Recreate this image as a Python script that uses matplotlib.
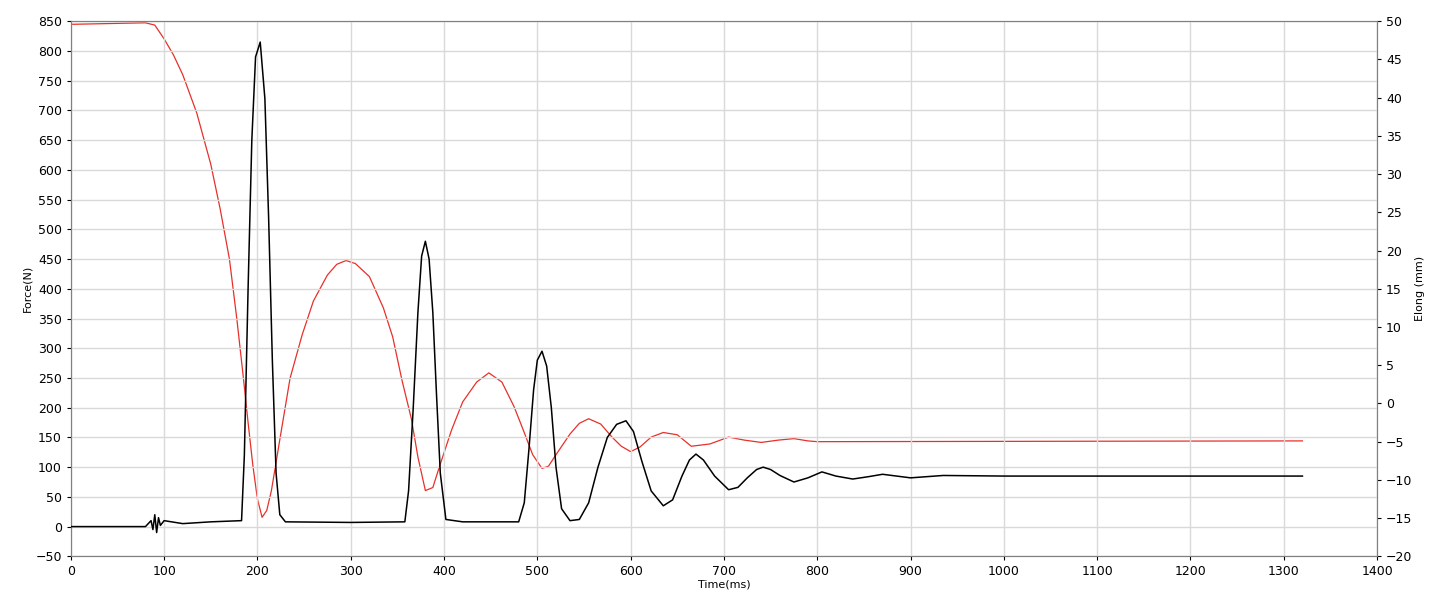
import matplotlib.pyplot as plt

# Force (N)
force_t = [0, 80, 86, 88, 90, 92, 94, 96, 100, 120, 150, 183, 186, 190, 194, 198, 203, 208, 212, 216, 220, 224,
           230, 300, 358, 362, 367, 372, 376, 380, 384, 388, 392, 396, 402, 420, 480, 486, 491, 496, 500, 505,
           510, 515, 520, 526, 535, 545, 555, 565, 575, 585, 595, 603, 612, 622, 635, 645, 655, 663, 670, 678,
           690, 705, 715, 725, 735, 742, 750, 760, 775, 790, 805, 820, 838, 855, 870, 885, 900, 935, 1000, 1320]
force_v = [0, 0, 10, -5, 20, -10, 15, 2, 10, 5, 8, 10, 120, 400, 650, 790, 815, 720, 520, 280, 90, 20,
           8, 7, 8, 60, 200, 360, 455, 480, 450, 360, 220, 90, 12, 8, 8, 40, 130, 230, 280, 295,
           270, 200, 100, 30, 10, 12, 40, 100, 150, 172, 178, 160, 110, 60, 35, 45, 85, 112, 122, 112,
           85, 62, 66, 82, 96, 100, 96, 86, 75, 82, 92, 85, 80, 84, 88, 85, 82, 86, 85, 85]

# Elongation (mm)
elong_t = [0, 80, 90, 100, 110, 120, 135, 150, 160, 170, 178, 185, 190, 195, 200, 205, 210, 215, 225, 235,
           248, 260, 275, 285, 295, 305, 320, 335, 345, 355, 365, 372, 380, 388, 395, 408, 420, 435, 448, 462,
           475, 485, 495, 505, 512, 520, 535, 545, 555, 568, 580, 590, 600, 610, 622, 635, 650, 665, 685, 705,
           722, 740, 758, 775, 790, 800, 1320]
elong_v = [49.6, 49.8, 49.5, 47.7, 45.6, 43, 38, 31.3, 25.5, 18.9, 11, 3.3, -2.5, -8, -12.5, -14.9, -14,
           -11.4, -4, 3.3, 9, 13.4, 16.8, 18.2, 18.7, 18.3, 16.6, 12.5, 8.7, 3, -2, -7, -11.4, -11, -8.3,
           -3.5, 0.2, 2.8, 4, 2.8, -0.4, -3.5, -6.7, -8.5, -8.2, -6.7, -4, -2.6, -2, -2.7, -4.4, -5.6, -6.3,
           -5.7, -4.4, -3.8, -4.1, -5.6, -5.3, -4.4, -4.8, -5.1, -4.8, -4.6, -4.9, -5, -4.9]

fig, ax = plt.subplots(figsize=(14.45, 6.08), dpi=100)
fig.subplots_adjust(left=0.049, right=0.953, top=0.965, bottom=0.085)
ax2 = ax.twinx()

ax.plot(force_t, force_v, color='black', lw=1.1, zorder=3)
ax2.plot(elong_t, elong_v, color='#e8302a', lw=0.9)
ax.set_zorder(ax2.get_zorder() + 1)
ax.patch.set_visible(False)

ax.set_xlim(0, 1400)
ax.set_ylim(-50, 850)
ax2.set_ylim(-20, 50)
ax.set_xticks(range(0, 1401, 100))
ax.set_yticks(range(-50, 851, 50))
ax2.set_yticks(range(-20, 51, 5))
ax.grid(True, color='#d9d9d9', lw=1)
for a in (ax, ax2):
    a.tick_params(labelsize=9, length=3)
    for s in a.spines.values():
        s.set_color('#808080')
ax.set_xlabel('Time(ms)', fontsize=8, labelpad=1)
ax.set_ylabel('Force(N)', fontsize=8, labelpad=2)
ax2.set_ylabel('Elong (mm)', fontsize=8, labelpad=2)

fig.savefig('out.png')
